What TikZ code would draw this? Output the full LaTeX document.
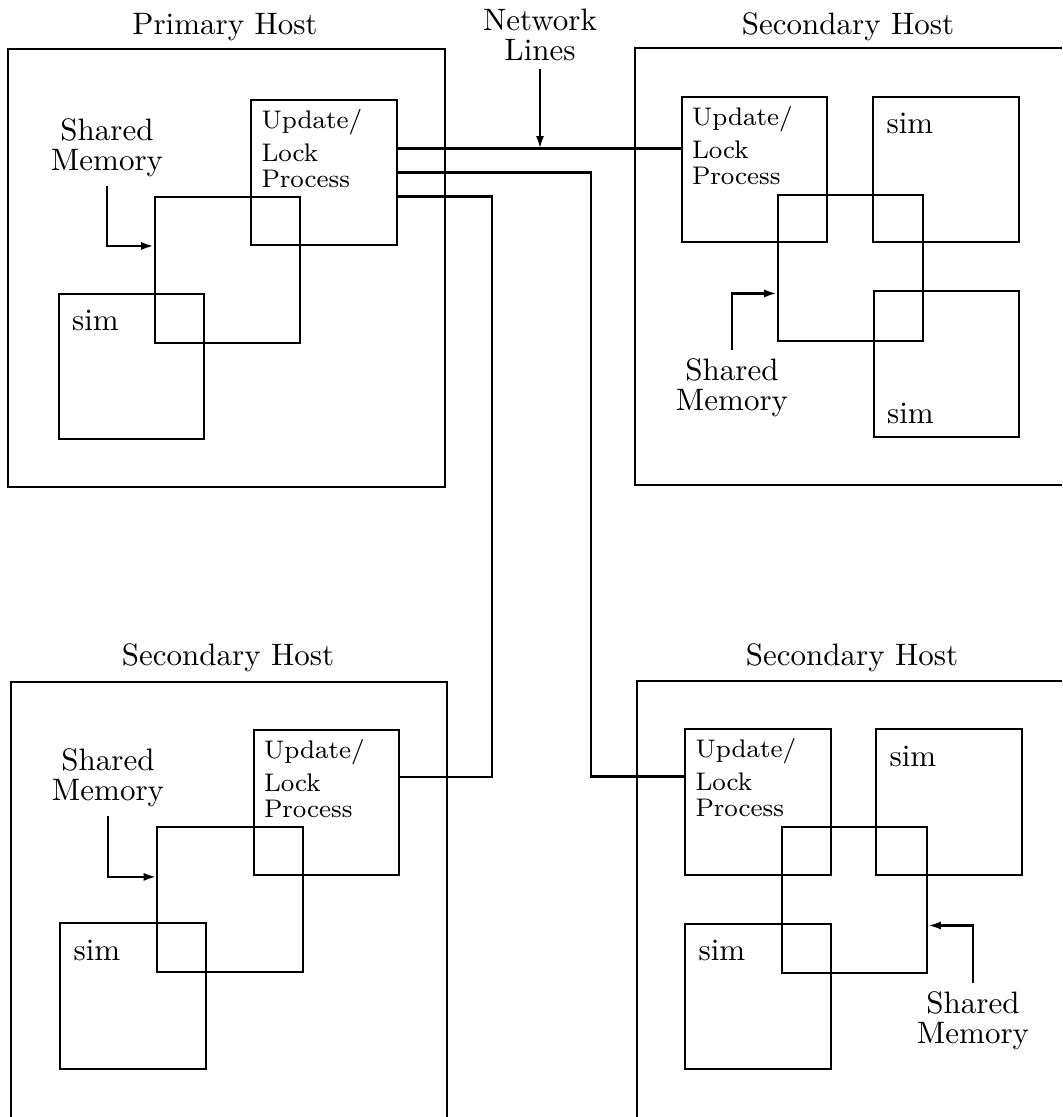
\documentclass[tikz,border=0pt]{standalone}
\usepackage{tikz}
\usetikzlibrary{arrows.meta}

\tikzset{
  frame/.style={line width=0.7pt},
  procbox/.style={draw, line width=0.7pt, minimum width=47pt, minimum height=47pt, inner sep=0pt},
  simtop/.style={anchor=north west, inner xsep=4.5pt, inner ysep=5.5pt, font=\fontsize{10}{10}\selectfont},
  simbot/.style={anchor=south west, inner xsep=4.5pt, inner ysep=4.5pt, font=\fontsize{10}{10}\selectfont},
  ultext/.style={anchor=north west, inner xsep=3.5pt, inner ysep=3.2pt, align=left, font=\fontsize{8.2}{8.4}\selectfont},
  caption/.style={font=\fontsize{10}{9.7}\selectfont, align=center, inner sep=2.5pt},
  ptr/.style={line width=0.7pt, -{Latex[length=4pt,width=2.6pt]}},
  wire/.style={line width=0.7pt}
}
\newcommand{\ultxt}{Update/\\[2.2pt]Lock\\Process}

\begin{document}
\begin{tikzpicture}[x=0.3225pt, y=-0.3225pt]
    \useasboundingbox (0,0) rectangle (1062,1117);

    % Host frames
    \draw[frame] (8,49) rectangle (445,487);
    \draw[frame] (1062,48) -- (635,48) -- (635,485) -- (1062,485);
    \draw[frame] (11,1117) -- (11,682) -- (447,682) -- (447,1117);
    \draw[frame] (1062,681) -- (637,681) -- (637,1117);

    % Host titles
    \node[caption] (ptitle) at (225,27) {Primary Host};
    \node[caption] (trtitle) at (848,27) {Secondary Host};
    \node[caption] (bltitle) at (228,658) {Secondary Host};
    \node[caption] (brtitle) at (852,658) {Secondary Host};

    % Primary host
    \node[procbox, label={[ultext]north west:\ultxt}] (pul) at (324,172.5) {};
    \node[procbox] (psm) at (227.5,270) {};
    \node[procbox, label={[simtop]north west:sim}] (psim) at (131.5,366.5) {};
    \node[caption] (psml) at (107,148) {Shared\\Memory};
    \draw[ptr] (psml.south) |- (psm.162.5);

    % Secondary host, top right
    \node[procbox, label={[ultext]north west:\ultxt}] (trul) at (754.5,169.5) {};
    \node[procbox, label={[simtop]north west:sim}] (trsima) at (946,169.5) {};
    \node[procbox] (trsm) at (850.5,268) {};
    \node[procbox, label={[simbot]south west:sim}] (trsimb) at (946.5,364) {};
    \node[caption] (trsml) at (732,388) {Shared\\Memory};
    \draw[ptr] (trsml.north) |- (trsm.199);

    % Secondary host, bottom left
    \node[procbox, label={[ultext]north west:\ultxt}] (blul) at (326.5,802.5) {};
    \node[procbox] (blsm) at (230,899.5) {};
    \node[procbox, label={[simtop]north west:sim}] (blsim) at (133,996) {};
    \node[caption] (blsml) at (108,778) {Shared\\Memory};
    \draw[ptr] (blsml.south) |- (blsm.163);

    % Secondary host, bottom right
    \node[procbox, label={[ultext]north west:\ultxt}] (brul) at (758,802) {};
    \node[procbox, label={[simtop]north west:sim}] (brsima) at (949,802) {};
    \node[procbox] (brsm) at (854.5,900) {};
    \node[procbox, label={[simtop]north west:sim}] (brsimb) at (758,996.5) {};
    \node[caption] (brsml) at (973,1021) {Shared\\Memory};
    \draw[ptr] (brsml.north) |- (brsm.-19);

    % Network lines
    \coordinate (busL) at (492,0);
    \coordinate (busR) at (591,0);
    \draw[wire] (pul.18.5) -- (pul.18.5 -| trul.west);
    \draw[wire] (pul.east) -| (busR |- brul.161) -- (brul.161);
    \draw[wire] (pul.-18.5) -| (busL |- blul.19) -- (blul.19);
    \node[caption] (netl) at (540,35) {Network\\Lines};
    \draw[ptr] (netl.south) -- (netl.south |- pul.18.5);
\end{tikzpicture}
\end{document}
